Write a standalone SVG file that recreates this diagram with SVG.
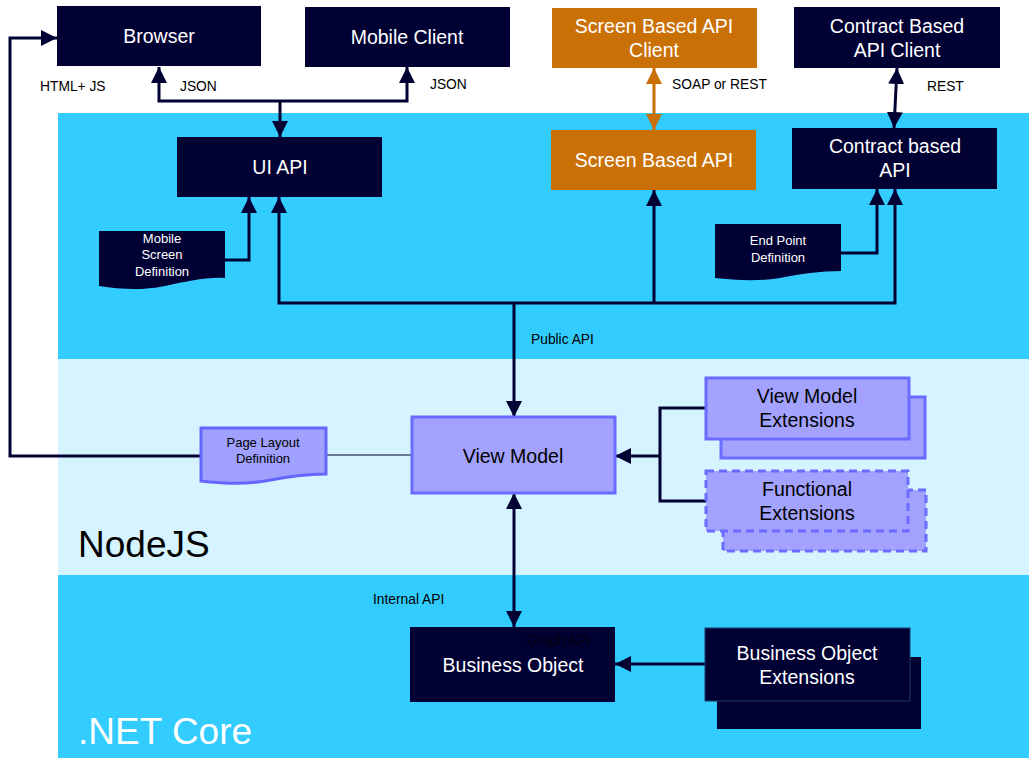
<svg xmlns="http://www.w3.org/2000/svg" width="1029" height="759" viewBox="0 0 1029 759">
<style>
.dark{fill:#000033;}
.orange{fill:#C97107;}
.purple{fill:#A3A3FF;stroke:#6B6BFF;stroke-width:3;}
.dashed{fill:#A3A3FF;stroke:#6B6BFF;stroke-width:3;stroke-dasharray:8,5;}
.wt{font-family:"Liberation Sans",Arial,sans-serif;fill:#FFFFFF;font-size:19.5px;text-anchor:middle;}
.bt{font-family:"Liberation Sans",Arial,sans-serif;fill:#000000;font-size:19.5px;text-anchor:middle;}
.sw{font-family:"Liberation Sans",Arial,sans-serif;fill:#FFFFFF;font-size:13px;text-anchor:middle;}
.sb{font-family:"Liberation Sans",Arial,sans-serif;fill:#000000;font-size:13px;text-anchor:middle;}
.lbl{font-family:"Liberation Sans",Arial,sans-serif;fill:#000000;font-size:13.8px;}
.big{font-family:"Liberation Sans",Arial,sans-serif;font-size:37px;}
.ln{fill:none;stroke:#000033;stroke-width:3;}
.lo{fill:none;stroke:#C97107;stroke-width:3;}
</style>
<defs>
<marker id="ah" markerUnits="userSpaceOnUse" markerWidth="16" markerHeight="16" viewBox="0 0 16 16" refX="16" refY="8" orient="auto-start-reverse"><path d="M0,0 L16,8 L0,16 z" fill="#000033"/></marker>
<marker id="ao" markerUnits="userSpaceOnUse" markerWidth="16" markerHeight="16" viewBox="0 0 16 16" refX="16" refY="8" orient="auto-start-reverse"><path d="M0,0 L16,8 L0,16 z" fill="#C97107"/></marker>
</defs>
<rect width="1029" height="759" fill="#FFFFFF"/>
<g id="bands">
<rect x="58" y="113" width="971" height="246" fill="#33CCFF"/>
<rect x="58" y="359" width="971" height="216" fill="#D5F4FF"/>
<rect x="58" y="575" width="971" height="183" fill="#33CCFF"/>
<text x="78" y="557" class="big" fill="#000000">NodeJS</text>
<text x="78" y="744" class="big" fill="#FFFFFF">.NET Core</text>
</g>
<g id="connectors">
<polyline class="ln" points="201,456 10,456 10,38 57,38" marker-end="url(#ah)"/>
<line x1="326" y1="455" x2="412" y2="455" stroke="#000033" stroke-width="1.2"/>
<polyline class="ln" points="280,100 280,137" marker-end="url(#ah)"/>
<polyline class="ln" points="159,67 159,101 407,101 407,67" marker-start="url(#ah)" marker-end="url(#ah)"/>
<polyline class="ln" points="225,260 249,260 249,197" marker-end="url(#ah)"/>
<polyline class="ln" points="279,197 279,303 895,303 895,189" marker-start="url(#ah)" marker-end="url(#ah)"/>
<line class="ln" x1="654" y1="303" x2="654" y2="190" marker-end="url(#ah)"/>
<line class="ln" x1="514" y1="303" x2="514" y2="417" marker-end="url(#ah)"/>
<polyline class="ln" points="841,253 877,253 877,189" marker-end="url(#ah)"/>
<line class="lo" x1="654" y1="68" x2="654" y2="130" marker-start="url(#ao)" marker-end="url(#ao)"/>
<line class="ln" x1="897" y1="68" x2="894" y2="128" marker-start="url(#ah)" marker-end="url(#ah)"/>
<polyline class="ln" points="706,408 660,408 660,501 706,501"/>
<line class="ln" x1="660" y1="456" x2="615" y2="456" marker-end="url(#ah)"/>
<line class="ln" x1="514" y1="493" x2="514" y2="627" marker-start="url(#ah)" marker-end="url(#ah)"/>
<line class="ln" x1="705" y1="664" x2="615" y2="664" marker-end="url(#ah)"/>
<text x="40" y="91" class="lbl">HTML+ JS</text>
<text x="180" y="91" class="lbl">JSON</text>
<text x="430" y="89" class="lbl">JSON</text>
<text x="672" y="89" class="lbl">SOAP or REST</text>
<text x="927" y="91" class="lbl">REST</text>
<text x="531" y="344" class="lbl">Public API</text>
<text x="373" y="604" class="lbl">Internal API</text>
</g>
<g id="browser">
<rect x="57" y="6" width="204" height="60" class="dark"/>
<text x="159" y="43" class="wt">Browser</text>
</g>
<g id="mobile-client">
<rect x="305" y="7" width="205" height="60" class="dark"/>
<text x="407" y="44" class="wt">Mobile Client</text>
</g>
<g id="screen-api-client">
<rect x="552" y="8" width="205" height="60" class="orange"/>
<text x="654" y="33" class="wt">Screen Based API</text>
<text x="654" y="57" class="wt">Client</text>
</g>
<g id="contract-api-client">
<rect x="794" y="7" width="206" height="61" class="dark"/>
<text x="897" y="33" class="wt">Contract Based</text>
<text x="897" y="57" class="wt">API Client</text>
</g>
<g id="ui-api">
<rect x="177" y="137" width="205" height="60" class="dark"/>
<text x="280" y="174" class="wt">UI API</text>
</g>
<g id="screen-api">
<rect x="551" y="130" width="205" height="60" class="orange"/>
<text x="654" y="167" class="wt">Screen Based API</text>
</g>
<g id="contract-api">
<rect x="792" y="128" width="205" height="61" class="dark"/>
<text x="895" y="153" class="wt">Contract based</text>
<text x="895" y="177" class="wt">API</text>
</g>
<g id="mobile-screen-def">
<path d="M99,231 H225 V278 C205,277 185,282 165,286 C140,291 120,289 99,286 Z" class="dark"/>
<text x="162" y="243" class="sw">Mobile</text>
<text x="162" y="259" class="sw">Screen</text>
<text x="162" y="276" class="sw">Definition</text>
</g>
<g id="endpoint-def">
<path d="M715,224 H841 V271 C820,271 800,274 780,278 C755,282 735,280 715,278 Z" class="dark"/>
<text x="778" y="245" class="sw">End Point</text>
<text x="778" y="262" class="sw">Definition</text>
</g>
<g id="page-layout-def">
<path d="M201,428 H326 V474 C305,474 285,477 265,481 C240,485 220,483 201,481 Z" class="purple" style="fill:#A0A0FF;stroke:#6666FF"/>
<text x="263" y="447" class="sb">Page Layout</text>
<text x="263" y="463" class="sb">Definition</text>
</g>
<g id="view-model">
<rect x="412" y="417" width="203" height="76" class="purple"/>
<text x="513" y="463" class="bt">View Model</text>
</g>
<g id="vm-extensions">
<rect x="721" y="397" width="204" height="61" class="purple"/>
<rect x="706" y="378" width="203" height="61" class="purple"/>
<text x="807" y="403" class="bt">View Model</text>
<text x="807" y="427" class="bt">Extensions</text>
</g>
<g id="functional-extensions">
<rect x="723" y="490" width="203" height="61" class="dashed"/>
<rect x="706" y="471" width="202" height="60" class="dashed"/>
<text x="807" y="496" class="bt">Functional</text>
<text x="807" y="520" class="bt">Extensions</text>
</g>
<g id="business-object">
<rect x="410" y="627" width="205" height="75" class="dark"/>
<text x="513" y="672" class="wt">Business Object</text>
<text x="527" y="645" class="lbl" style="fill:#000011">Graph API</text>
</g>
<g id="bo-extensions">
<rect x="717" y="657" width="204" height="72" class="dark"/>
<rect x="705" y="628" width="205" height="73" class="dark" stroke="#1a3a6a" stroke-width="1"/>
<text x="807" y="660" class="wt">Business Object</text>
<text x="807" y="684" class="wt">Extensions</text>
</g>
</svg>
